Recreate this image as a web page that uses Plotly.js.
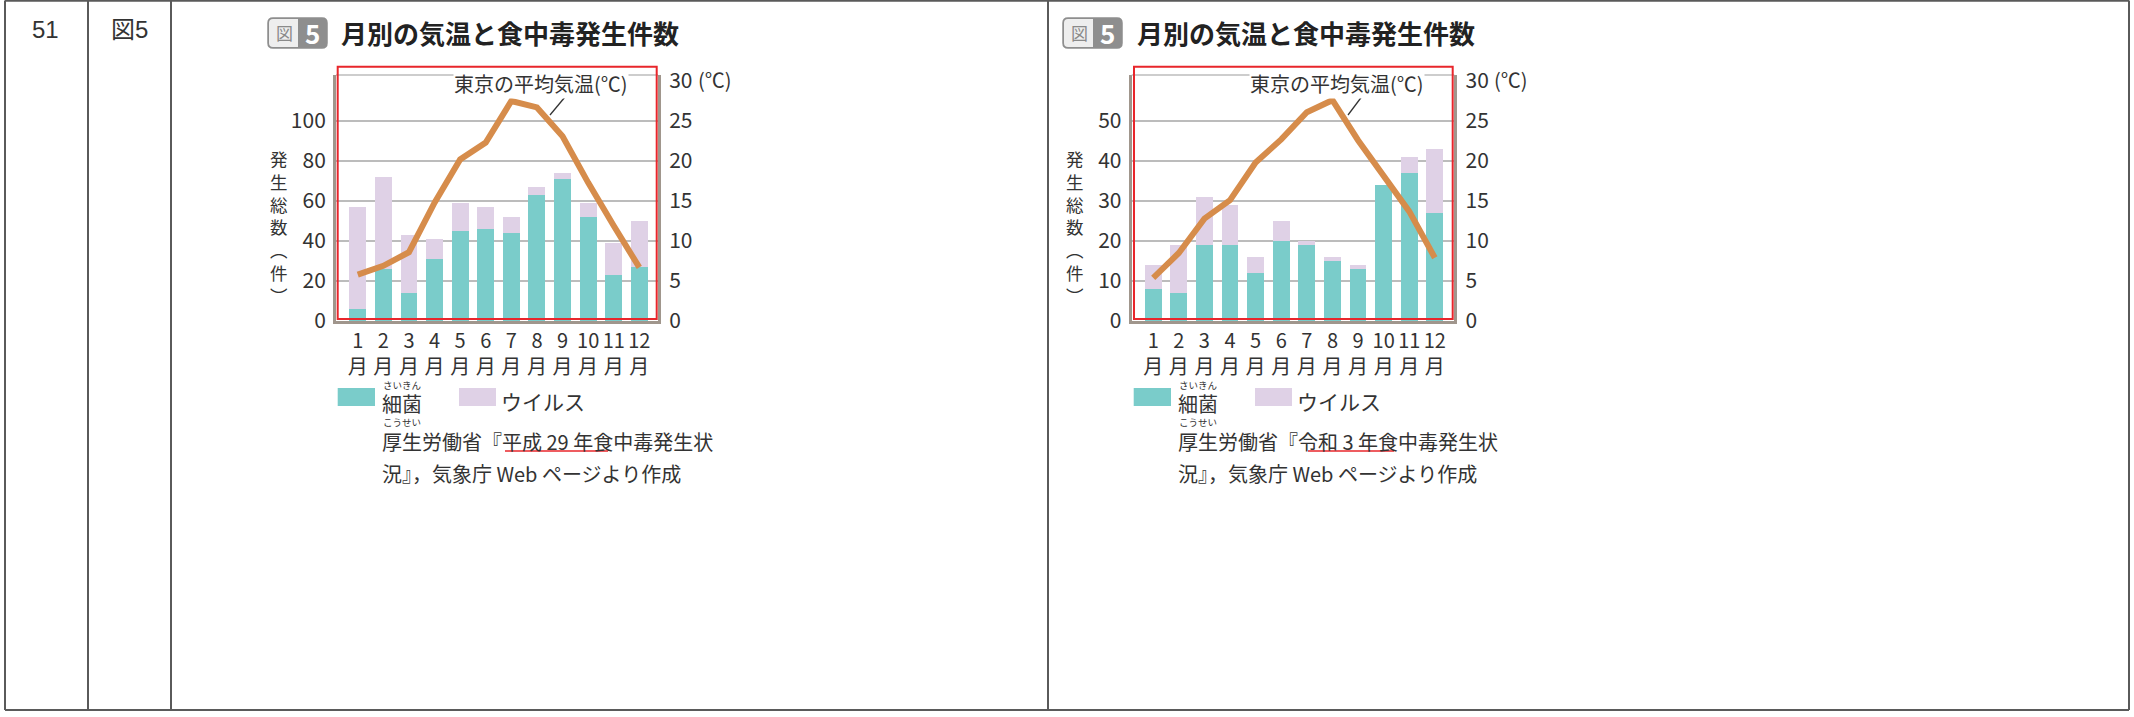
<!DOCTYPE html>
<html><head><meta charset="utf-8">
<script src="https://cdn.plot.ly/plotly-3.0.1.min.js"></script>
<style>html,body{margin:0;padding:0;background:#fff;}#chart{width:2134px;height:717px;}</style>
</head><body><div id="chart"></div>
<script>
const W = 2134, H = 717;
// ---- data ----
const months = ['1','2','3','4','5','6','7','8','9','10','11','12'];
const monthSuffix = '月';
const bacteria2017 = [6, 26, 14, 31, 45, 46, 44, 63, 71, 52, 23, 27];
const virus2017    = [51, 46, 29, 10, 14, 11, 8, 4, 3, 7, 16, 23];
const temp2017     = [5.8, 6.9, 8.6, 14.8, 20.2, 22.3, 27.5, 26.7, 23.1, 17.3, 11.9, 6.7];
const bacteria2021 = [8, 7, 19, 19, 12, 20, 19, 15, 13, 34, 37, 27];
const virus2021    = [6, 12, 12, 10, 4, 5, 1, 1, 1, 0, 4, 16];
const temp2021     = [5.4, 8.5, 12.8, 15.1, 19.8, 22.7, 26.1, 27.6, 22.6, 18.2, 13.7, 7.9];
const countTicks2017 = [0, 20, 40, 60, 80, 100];
const countTicks2021 = [0, 10, 20, 30, 40, 50];
const tempTicks = [0, 5, 10, 15, 20, 25, 30];
const seriesNames = ['細菌', 'ウイルス'];
const rubyBacteria = 'さいきん';
const rubySource = 'こうせい';
const lineLabel = '東京の平均気温(℃)';
const tempUnit = '(℃)';
const titleText = '月別の気温と食中毒発生件数';
const badgeText = ['図', '5'];
const yTitleChars = ['発','生','総','数','︵','件','︶'];
const sourceLine1 = ['厚生労働省『平成 29 年食中毒発生状', '厚生労働省『令和 3 年食中毒発生状'];
const sourceLine2 = '況』，気象庁 Web ページより作成';
const rowNo = '51';
const rowFig = '図5';

// ---- helpers ----
const F = '"Noto Sans CJK JP", "Noto Sans", sans-serif';
const TXT = '#333333';
const TEAL = '#7accca', LAV = '#dfd1e6', ORANGE = '#d68c4b', AX = '#a0968c', GRID = '#bcbcbc';
const px = x => x / W, py = y => 1 - y / H;
function ann(text, x, y, o) {
  return Object.assign({text, x: px(x), y: py(y), xref: 'paper', yref: 'paper', showarrow: false,
    xanchor: 'center', yanchor: 'middle', font: {family: F, size: 20, color: TXT}}, o || {});
}
function line(x0, y0, x1, y1, color, width) {
  return {type: 'line', xref: 'paper', yref: 'paper', x0: px(x0), y0: py(y0), x1: px(x1), y1: py(y1),
    line: {color, width}};
}
function rect(x0, y0, x1, y1, fill, lc, lw) {
  return {type: 'rect', xref: 'paper', yref: 'paper', x0: px(x0), y0: py(y0), x1: px(x1), y1: py(y1),
    fillcolor: fill, line: {color: lc || fill, width: lw || 0}};
}
function rpath(x0, y0, x1, y1, r, rl, rr) {
  const a = rl ? r : 0, b = rr ? r : 0;
  const P = (x, y) => px(x) + ',' + py(y);
  return 'M' + P(x0 + a, y0) + ' L' + P(x1 - b, y0) + ' Q' + P(x1, y0) + ' ' + P(x1, y0 + b) +
    ' L' + P(x1, y1 - b) + ' Q' + P(x1, y1) + ' ' + P(x1 - b, y1) +
    ' L' + P(x0 + a, y1) + ' Q' + P(x0, y1) + ' ' + P(x0, y1 - a) +
    ' L' + P(x0, y0 + a) + ' Q' + P(x0, y0) + ' ' + P(x0 + a, y0) + ' Z';
}

const charts = [
  {xa: 'x', ya: 'y', ya2: 'y2', p0: 336, p1: 658, xr: [-0.85, 11.73], bac: bacteria2017, vir: virus2017,
   tmp: temp2017, ticks: countTicks2017, cmax: 123, dx: 0, src: sourceLine1[0], ul: [505, 608],
   lab: 541, lead: [565, 97, 550, 115], red: [337.7, 66.7, 656.7, 319], yt: 279},
  {xa: 'x2', ya: 'y3', ya2: 'y4', p0: 1131.7, p1: 1454.3, xr: [-0.84, 11.76], bac: bacteria2021, vir: virus2021,
   tmp: temp2021, ticks: countTicks2021, cmax: 61.5, dx: 796, src: sourceLine1[1], ul: [1308, 1394],
   lab: 1337, lead: [1361.5, 97, 1348, 115], red: [1134, 66.7, 1452.7, 319], yt: 1075}
];

const TOP = 75, BOT = 321;
const traces = [];
const layout = {
  width: W, height: H, margin: {l: 0, r: 0, t: 0, b: 0}, paper_bgcolor: '#fff', plot_bgcolor: 'rgba(0,0,0,0)',
  barmode: 'stack', bargap: 0.34, showlegend: false, font: {family: F, color: TXT},
  shapes: [], annotations: []
};

const monthTickText = months.map(m => m + '<br>' + monthSuffix);

charts.forEach((c, i) => {
  traces.push({type: 'bar', name: seriesNames[0], x: months, y: c.bac, xaxis: c.xa, yaxis: c.ya,
    marker: {color: TEAL, line: {width: 0}}, hoverinfo: 'skip'});
  traces.push({type: 'bar', name: seriesNames[1], x: months, y: c.vir, xaxis: c.xa, yaxis: c.ya,
    marker: {color: LAV, line: {width: 0}}, hoverinfo: 'skip'});
  traces.push({type: 'scatter', mode: 'lines', name: lineLabel, x: months, y: c.tmp, xaxis: c.xa, yaxis: c.ya2,
    line: {color: ORANGE, width: 6}, hoverinfo: 'skip'});

  const xk = i === 0 ? 'xaxis' : 'xaxis2';
  const yk = i === 0 ? 'yaxis' : 'yaxis3';
  const y2k = i === 0 ? 'yaxis2' : 'yaxis4';
  const dom = [py(BOT), py(TOP)];
  layout[xk] = {domain: [px(c.p0), px(c.p1)], anchor: c.ya, type: 'category', range: c.xr,
    tickvals: months, ticktext: monthTickText,
    showline: true, linecolor: AX, linewidth: 3, ticks: '', showgrid: false, zeroline: false,
    tickfont: {family: F, size: 20, color: TXT}, tickangle: 0, ticklabelstandoff: 0, fixedrange: true};
  layout[yk] = {domain: dom, anchor: c.xa, range: [0, c.cmax], tickvals: c.ticks, showgrid: true,
    gridcolor: GRID, gridwidth: 1.5, showline: true, linecolor: AX, linewidth: 3, zeroline: false, ticks: '',
    tickfont: {family: F, size: 21, color: TXT}, ticklabelstandoff: 3, fixedrange: true};
  layout[y2k] = {domain: dom, anchor: c.xa, overlaying: c.ya, side: 'right', range: [0, 30.75],
    tickvals: tempTicks, showgrid: false, showline: true, linecolor: AX, linewidth: 3, zeroline: false,
    ticks: '', tickfont: {family: F, size: 21, color: TXT}, ticklabelstandoff: 4, fixedrange: true};

  const S = layout.shapes, A = layout.annotations, d = c.dx;
  // top frame line of plot
  S.push(line(c.p0, TOP, c.p1, TOP, GRID, 1.5));
  // red highlight frame
  S.push({type: 'rect', xref: 'paper', yref: 'paper', x0: px(c.red[0]), y0: py(c.red[1]), x1: px(c.red[2]),
    y1: py(c.red[3]), line: {color: '#e8262b', width: 2}, fillcolor: 'rgba(0,0,0,0)'});
  // line label + leader
  S.push(line(c.lead[0], c.lead[1], c.lead[2], c.lead[3], '#333', 1.3));
  A.push(ann(lineLabel, c.lab, 83, {bgcolor: '#fff', borderpad: 0}));
  A.push(ann(tempUnit, c.p1 + 57, 80, {}));
  // vertical y title (one stacked text)
  A.push(ann(yTitleChars.join('<br>'), c.yt, 227, {font: {family: F, size: 17.5, color: TXT}}));
  // title badge
  const bx0 = 268 + (i === 0 ? 0 : 795), bx1 = bx0 + 59, bm = bx0 + 30;
  S.push({type: 'path', xref: 'paper', yref: 'paper', path: rpath(bx0, 18, bx1, 48, 5, true, true),
    fillcolor: '#8e8e8e', line: {color: '#8e8e8e', width: 1.5}});
  S.push({type: 'path', xref: 'paper', yref: 'paper', path: rpath(bx0 + 1, 19, bm, 47, 4, true, false),
    fillcolor: '#eeeeee', line: {color: '#eeeeee', width: 0}});
  A.push(ann(badgeText[0], (bx0 + bm) / 2 + 1, 33, {font: {family: F, size: 17, color: '#8a8a8a'}}));
  A.push(ann('<b>' + badgeText[1] + '</b>', (bm + bx1) / 2, 33, {font: {family: F, size: 26, color: '#fff'}}));
  A.push(ann('<b>' + titleText + '</b>', 339 + d, 33, {xanchor: 'left', font: {family: F, size: 26, color: '#222'}}));
  // legend
  S.push(rect(337.7 + d, 388, 375 + d, 406, TEAL));
  S.push(rect(459 + d, 388, 496 + d, 406, LAV));
  A.push(ann(seriesNames[0], 380 + d, 403, {xanchor: 'left', font: {family: F, size: 20, color: TXT}}));
  A.push(ann(rubyBacteria, 381 + d, 385, {xanchor: 'left', font: {family: F, size: 9.5, color: TXT}}));
  A.push(ann(seriesNames[1], 499 + d, 401, {xanchor: 'left', font: {family: F, size: 21, color: TXT}}));
  // source
  A.push(ann(rubySource, 381 + d, 422, {xanchor: 'left', font: {family: F, size: 9.5, color: TXT}}));
  A.push(ann(c.src, 380 + d, 441, {xanchor: 'left', font: {family: F, size: 20, color: TXT}}));
  A.push(ann(sourceLine2, 380 + d, 473, {xanchor: 'left', font: {family: F, size: 20, color: TXT}}));
  S.push(line(c.ul[0], 451, c.ul[1], 451, '#e8262b', 1.5));
});

// table grid
const TL = '#5a5a5a';
[5, 88, 171, 1048, 2129].forEach(x => layout.shapes.push(line(x, 0.5, x, 710, TL, 2)));
layout.shapes.push(line(5, 0.8, 2129, 0.8, TL, 2));
layout.shapes.push(line(5, 710, 2129, 710, TL, 2));
layout.annotations.push(ann(rowNo, 45, 29, {font: {family: 'Liberation Sans, Arial, sans-serif', size: 24, color: TXT}}));
layout.annotations.push(ann(rowFig, 129, 29, {font: {family: 'Liberation Sans, "Noto Sans CJK JP", sans-serif', size: 24, color: TXT}}));

Plotly.newPlot('chart', traces, layout, {staticPlot: true, displayModeBar: false});
</script>
</body></html>
